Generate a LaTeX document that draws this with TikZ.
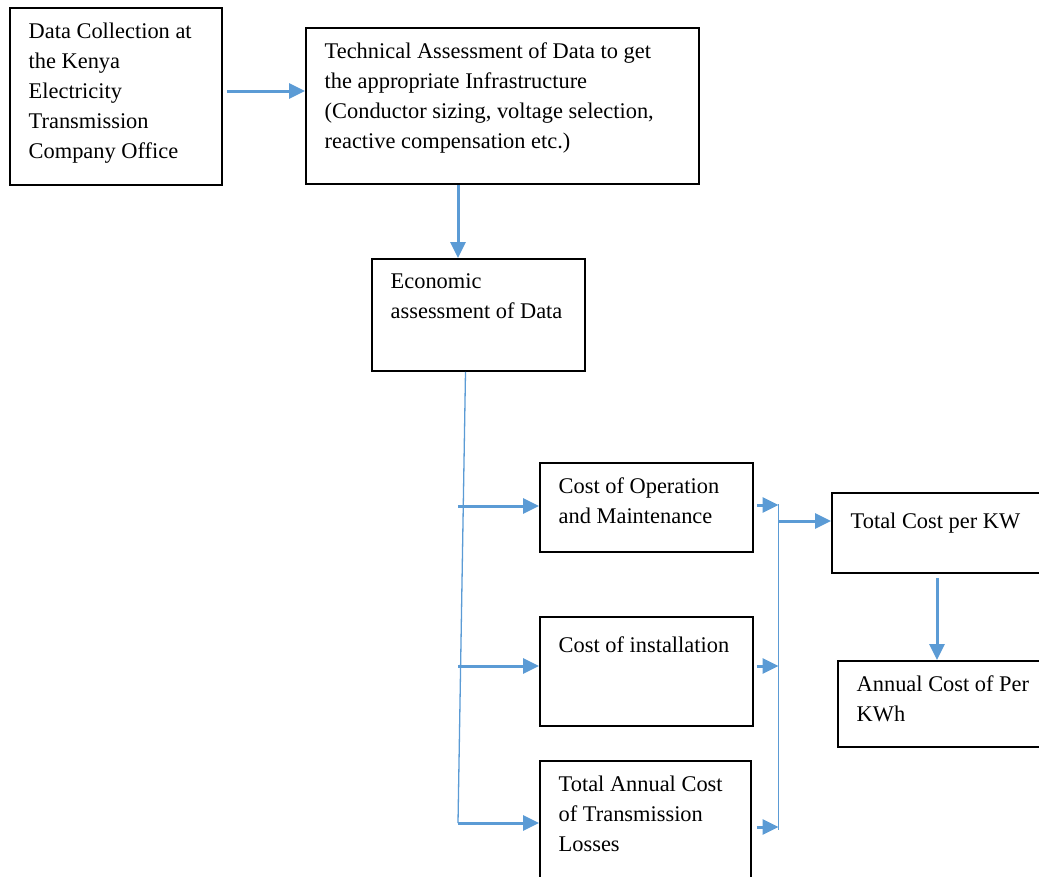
\documentclass[tikz,border=0pt]{standalone}
\usepackage{fontspec}
\setmainfont{Liberation Serif}
\usetikzlibrary{arrows.meta, calc}
\definecolor{flowblue}{RGB}{91,155,213}

\begin{document}
\begin{tikzpicture}[x=1pt, y=-1pt,
    % Define the styles for the boxes and their texts
    flowbox/.style={draw=black, line width=1.8pt, anchor=north west, inner sep=0pt},
    flowtext/.style={anchor=north west, inner sep=0pt, align=left,
        font=\fontsize{22.4}{30}\selectfont, execute at begin node=\strut},
    % Define the styles for the blue connectors
    bluearrow/.style={draw=flowblue, line width=3pt, -{Triangle[length=16pt, width=15pt]}},
    blueline/.style={draw=flowblue, line width=1.3pt}
]

% Fix the page size
\useasboundingbox (0,0) rectangle (1039,876);
\clip (0,0) rectangle (1039,876);

% Draw the boxes
\node[flowbox, minimum width=212pt, minimum height=177pt] (collect) at (9,7) {};
\node[flowbox, minimum width=393pt, minimum height=156pt] (technical) at (305,27) {};
\node[flowbox, minimum width=213pt, minimum height=112pt] (economic) at (371,258) {};
\node[flowbox, minimum width=213pt, minimum height=89pt] (operation) at (539,462) {};
\node[flowbox, minimum width=213pt, minimum height=109pt] (install) at (539,616) {};
\node[flowbox, minimum width=211pt, minimum height=140pt] (losses) at (539,760) {};
\node[flowbox, minimum width=230pt, minimum height=80pt] (totalkw) at (831,492) {};
\node[flowbox, minimum width=225pt, minimum height=86pt] (annual) at (837,660) {};

% Add the texts inside the boxes
\node[flowtext] (collecttxt) at ($(collect.north west)+(19.5,15.5)$)
    {Data Collection at\\the Kenya\\Electricity\\Transmission\\Company Office};
\node[flowtext] (technicaltxt) at ($(technical.north west)+(19.5,15.5)$)
    {Technical Assessment of Data to get\\the appropriate Infrastructure\\(Conductor sizing, voltage selection,\\reactive compensation etc.)};
\node[flowtext] (economictxt) at ($(economic.north west)+(19.5,15.5)$)
    {Economic\\assessment of Data};
\node[flowtext] (operationtxt) at ($(operation.north west)+(19.5,15.5)$)
    {Cost of Operation\\and Maintenance};
\node[flowtext] (installtxt) at ($(install.north west)+(19.5,15.5)$)
    {Cost of installation};
\node[flowtext] (lossestxt) at ($(losses.north west)+(19.5,15.5)$)
    {Total Annual Cost\\of Transmission\\Losses};
\node[flowtext] (totalkwtxt) at ($(totalkw.north west)+(19.5,15.5)$)
    {Total Cost per KW};
\node[flowtext] (annualtxt) at ($(annual.north west)+(19.5,15.5)$)
    {Annual Cost of Per\\KWh};

% Define the ends of the blue lines
\coordinate (trunktop) at (economic.south -| 465.5,0);
\coordinate (trunkend) at (458,823);
\coordinate (bustop) at (778.5,504);
\coordinate (busend) at (778.5,830);

% Draw the upper arrows
\draw[bluearrow] ($(collect.east |- 0,91)+(4,0)$) -- (technical.west |- 0,91);
\draw[bluearrow] (technical.south -| 458,0) -- (economic.north -| 458,0);

% Draw the left trunk and its arrows
\draw[blueline] (trunktop) -- (trunkend);
\draw[bluearrow] (trunkend |- 0,506) -- (operation.west |- 0,506);
\draw[bluearrow] (trunkend |- 0,666) -- (install.west |- 0,666);
\draw[bluearrow] (trunkend) -- (losses.west |- trunkend);

% Draw the right bus and its arrows
\draw[blueline] (bustop) -- (busend);
\draw[bluearrow] ($(operation.east |- 0,505)+(3,0)$) -- (bustop |- 0,505);
\draw[bluearrow] ($(install.east |- 0,666)+(3,0)$) -- (bustop |- 0,666);
\draw[bluearrow] ($(losses.east |- 0,827)+(5,0)$) -- (bustop |- 0,827);
\draw[bluearrow] (bustop |- 0,521) -- (totalkw.west |- 0,521);
\draw[bluearrow] ($(totalkw.south -| 937,0)+(0,4)$) -- (annual.north -| 937,0);

\end{tikzpicture}
\end{document}
